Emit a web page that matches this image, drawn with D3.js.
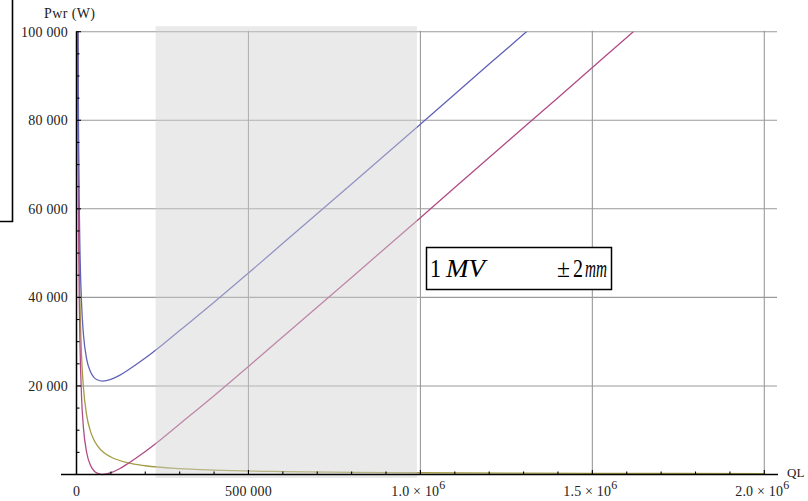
<!DOCTYPE html>
<html>
<head>
<meta charset="utf-8">
<script src="https://cdn.jsdelivr.net/npm/d3@7"></script>
<style>
  body { margin: 0; background: #fff; }
  svg { display: block; }
  text { font-family: "Liberation Serif", "Times New Roman", serif; }
</style>
</head>
<body>
<div id="chart"></div>
<script>
// QL sample points and power values (W)
var qlBlue  = [3000, 4000, 5000, 6000, 8000, 10000, 15000, 20000, 30000, 40000, 50000, 60000, 76000, 100000, 125000, 150000, 200000, 250000, 300000, 400000, 500000, 600000, 800000, 1000000, 1200000, 1300000, 1400000];
var pwrBlue = [142500, 109800, 90100, 77000, 60700, 50900, 38100, 31800, 25900, 23300, 22000, 21400, 21100, 21500, 22400, 23600, 26300, 29300, 32500, 38900, 45500, 52200, 65600, 79100, 92700, 99400, 106200];

var qlPink  = [3000, 4000, 5000, 6000, 8000, 10000, 15000, 20000, 30000, 40000, 50000, 60000, 76000, 100000, 125000, 150000, 200000, 250000, 300000, 400000, 500000, 600000, 800000, 1000000, 1200000, 1400000, 1600000, 1700000];
var pwrPink = [121400, 88700, 69000, 55900, 39600, 29800, 17000, 10700, 4800, 2200, 900, 300, 0, 400, 1300, 2500, 5200, 8200, 11400, 17800, 24400, 31100, 44500, 58000, 71600, 85100, 98700, 105500];

var qlOlive  = [3000, 4000, 5000, 6000, 8000, 10000, 15000, 20000, 30000, 40000, 50000, 60000, 80000, 100000, 150000, 200000, 300000, 400000, 600000, 800000, 1000000, 1500000, 2000000];
var pwrOlive = [131700, 98800, 79000, 65800, 49400, 39500, 26300, 19800, 13200, 9900, 7900, 6600, 4900, 3950, 2630, 1980, 1320, 990, 660, 490, 400, 260, 200];

var shadeQL = [230000, 990000];

var xTicks = [0, 500000, 1000000, 1500000, 2000000];
var xTickText = ["0", "500 000", "1.0 \u00d7 10", "1.5 \u00d7 10", "2.0 \u00d7 10"];
var xTickSup = ["", "", "6", "6", "6"];

var yTicks = [20000, 40000, 60000, 80000, 100000];
var yTickText = ["20 000", "40 000", "60 000", "80 000", "100 000"];

var W = 808, H = 501;

var svg = d3.select("#chart").append("svg")
  .attr("width", W)
  .attr("height", H);

var x = d3.scaleLinear().domain([0, 2000000]).range([76.5, 764.3]);
var y = d3.scaleLinear().domain([0, 100000]).range([474.5, 31.7]);

// stray frame on the left
svg.append("path")
  .attr("d", "M12.5,0 V221.5 H0")
  .attr("fill", "none")
  .attr("stroke", "#000")
  .attr("stroke-width", 1.6);

// grid
svg.append("g").selectAll("line").data(yTicks).enter().append("line")
  .attr("x1", x(0)).attr("x2", 777)
  .attr("y1", function(d){ return y(d); }).attr("y2", function(d){ return y(d); })
  .attr("stroke", "#9a9a9a").attr("stroke-width", 1.1);

svg.append("g").selectAll("line").data(xTicks.slice(1)).enter().append("line")
  .attr("x1", function(d){ return x(d); }).attr("x2", function(d){ return x(d); })
  .attr("y1", y(0)).attr("y2", y(100000) - 1)
  .attr("stroke", "#9a9a9a").attr("stroke-width", 1.1);

// curves
svg.append("clipPath").attr("id", "plotclip")
  .append("rect")
  .attr("x", x(0)).attr("y", y(100000))
  .attr("width", 700).attr("height", y(0) - y(100000) + 4);

var line = d3.line()
  .x(function(d){ return x(d[0]); })
  .y(function(d){ return y(d[1]); })
  .curve(d3.curveMonotoneX);

var series = [
  { ql: qlOlive, p: pwrOlive, color: "#a39c45" },
  { ql: qlPink,  p: pwrPink,  color: "#b04c85" },
  { ql: qlBlue,  p: pwrBlue,  color: "#6262b8" }
];

var cg = svg.append("g").attr("clip-path", "url(#plotclip)");
series.forEach(function(s) {
  cg.append("path")
    .datum(d3.zip(s.ql, s.p))
    .attr("d", line)
    .attr("fill", "none")
    .attr("stroke", s.color)
    .attr("stroke-width", 1.3);
});

// shaded band sits over grid and curves
svg.append("rect")
  .attr("x", x(shadeQL[0]))
  .attr("width", x(shadeQL[1]) - x(shadeQL[0]))
  .attr("y", y(100000) - 5.5)
  .attr("height", y(0) - y(100000) + 9)
  .attr("fill", "#d0d0d0")
  .attr("opacity", 0.45);

// axes
svg.append("line")
  .attr("x1", 61).attr("x2", 778)
  .attr("y1", y(0)).attr("y2", y(0))
  .attr("stroke", "#000").attr("stroke-width", 1.5);
svg.append("line")
  .attr("x1", x(0)).attr("x2", x(0))
  .attr("y1", y(0)).attr("y2", y(100000) - 0.5)
  .attr("stroke", "#000").attr("stroke-width", 1.5);

var xMinor = d3.range(100000, 2000001, 100000);
svg.append("g").selectAll("line").data(xMinor).enter().append("line")
  .attr("x1", function(d){ return x(d); }).attr("x2", function(d){ return x(d); })
  .attr("y1", y(0)).attr("y2", function(d){ return d % 500000 === 0 ? y(0) - 4.5 : y(0) - 3; })
  .attr("stroke", "#000").attr("stroke-width", 1.1);

var yMinor = d3.range(5000, 100001, 5000);
svg.append("g").selectAll("line").data(yMinor).enter().append("line")
  .attr("y1", function(d){ return y(d); }).attr("y2", function(d){ return y(d); })
  .attr("x1", x(0)).attr("x2", function(d){ return d % 20000 === 0 ? x(0) + 4.5 : x(0) + 3; })
  .attr("stroke", "#000").attr("stroke-width", 1.1);

// tick labels
var yl = svg.append("g");
yTicks.forEach(function(v, i) {
  yl.append("text")
    .attr("x", 68).attr("y", y(v) + 5)
    .attr("text-anchor", "end")
    .attr("font-size", 14)
    .attr("letter-spacing", 0.2)
    .attr("fill", "#222")
    .text(yTickText[i]);
});

var xl = svg.append("g");
xTicks.forEach(function(v, i) {
  var t = xl.append("text")
    .attr("x", x(v) - (xTickSup[i] ? 2 : 0)).attr("y", 496)
    .attr("text-anchor", "middle")
    .attr("font-size", 14)
    .attr("letter-spacing", 0.2)
    .attr("fill", "#222");
  t.append("tspan").text(xTickText[i]);
  if (xTickSup[i]) {
    t.append("tspan").attr("dy", -7).attr("font-size", 12).text(xTickSup[i]);
  }
});

svg.append("text")
  .attr("x", 44).attr("y", 18)
  .attr("font-size", 14)
  .attr("letter-spacing", 0.4)
  .attr("fill", "#222")
  .text("Pwr (W)");

svg.append("text")
  .attr("x", 787).attr("y", 477)
  .attr("font-size", 13)
  .attr("fill", "#222")
  .text("QL");

// annotation box
var box = svg.append("g");
box.append("rect")
  .attr("x", 426.5).attr("y", 247.5)
  .attr("width", 185).attr("height", 42)
  .attr("fill", "#fff")
  .attr("stroke", "#000")
  .attr("stroke-width", 1.5);

var boxParts = [
  { s: "1",      px: 430, w: 11, it: false },
  { s: "MV",     px: 446, w: 39, it: true },
  { s: "\u00b1", px: 557, w: 13, it: false },
  { s: "2",      px: 573, w: 10, it: false },
  { s: "mm",     px: 585, w: 22, it: true }
];
boxParts.forEach(function(p) {
  box.append("text")
    .attr("x", p.px).attr("y", 277)
    .attr("font-size", 26)
    .attr("font-style", p.it ? "italic" : "normal")
    .attr("textLength", p.w)
    .attr("lengthAdjust", "spacingAndGlyphs")
    .attr("fill", "#000")
    .text(p.s);
});
</script>
</body>
</html>
